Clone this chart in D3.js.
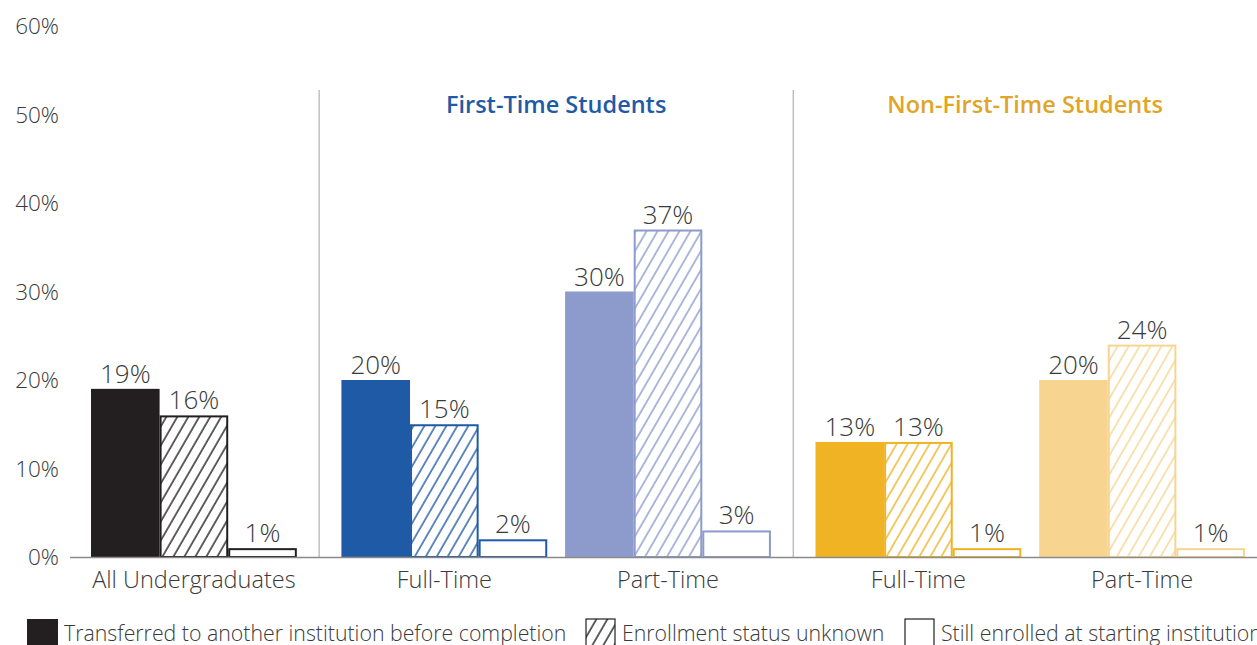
<!DOCTYPE html>
<html>
<head>
<meta charset="utf-8">
<script src="https://cdn.jsdelivr.net/npm/d3@7"></script>
<style>
  html, body { margin: 0; padding: 0; background: #fff; overflow: hidden; }
  svg { display: block; font-family: 'Open Sans', 'Noto Sans', sans-serif; }
</style>
</head>
<body>
<svg id="chart" width="1257" height="645"></svg>
<script>
(function() {
    'use strict';

    // data
    var groups = ['All Undergraduates', 'Full-Time', 'Part-Time', 'Full-Time', 'Part-Time'];
    var sectionOf = [0, 1, 1, 2, 2];
    var sections = ['', 'First-Time Students', 'Non-First-Time Students'];
    var transferred = [19, 20, 30, 13, 20];
    var unknown = [16, 15, 37, 13, 24];
    var stillEnrolled = [1, 2, 3, 1, 1];
    var groupColors = ['#231f20', '#1f5aa6', '#8c9bcb', '#f0b323', '#f7d590'];
    var sectionColors = ['#333', '#1f5aa6', '#e0a526'];
    var yTicks = [0, 10, 20, 30, 40, 50, 60];
    var legendLabels = ['Transferred to another institution before completion', 'Enrollment status unknown', 'Still enrolled at starting institution'];

    var svg = d3.select('#chart');
    var textColor = '#3a3a3a';

    // layout in "bar units": 3 bars per group, small gap inside a section, bigger gap between sections
    var innerGap = 0.26, sectionGap = 0.65;
    var groupStart = [];
    var u = 0;
    groups.forEach(function(g, i) {
        if (i > 0) {
            u += sectionOf[i] === sectionOf[i - 1] ? innerGap : sectionGap;
        }
        groupStart.push(u);
        u += 3;
    });

    var x = d3.scaleLinear().domain([0, u]).range([91, 1245]);
    var y = d3.scaleLinear().domain([0, 60]).range([557, 26]);

    // hatch patterns per group colour
    var defs = svg.append('defs');
    groupColors.forEach(function(c, i) {
        var p = defs.append('pattern')
            .attr('id', 'hatch' + i)
            .attr('patternUnits', 'userSpaceOnUse')
            .attr('width', 9.5)
            .attr('height', 9.5)
            .attr('patternTransform', 'rotate(30)');
        p.append('rect').attr('width', 9.5).attr('height', 9.5).attr('fill', '#fff');
        p.append('line')
            .attr('x1', 1).attr('y1', 0).attr('x2', 1).attr('y2', 9.5)
            .attr('stroke', c)
            .attr('stroke-width', 1.4);
    });

    // y axis labels
    svg.append('g').selectAll('text')
        .data(yTicks)
        .enter().append('text')
        .attr('x', 59)
        .attr('y', function(d) { return y(d); })
        .attr('dy', '0.36em')
        .attr('text-anchor', 'end')
        .style('font-size', '22.5px')
        .style('font-weight', 300)
        .style('fill', textColor)
        .text(function(d) { return d + '%'; });

    // section dividers and titles
    var dividers = [];
    for (var i = 1; i < groups.length; i++) {
        if (sectionOf[i] !== sectionOf[i - 1]) {
            dividers.push((x(groupStart[i - 1] + 3) + x(groupStart[i])) / 2);
        }
    }
    svg.append('g').selectAll('line')
        .data(dividers)
        .enter().append('line')
        .attr('x1', function(d) { return d; })
        .attr('x2', function(d) { return d; })
        .attr('y1', 90)
        .attr('y2', y(0))
        .attr('stroke', '#a0a0a0')
        .attr('stroke-width', 1);

    var bounds = [70].concat(dividers).concat([1257]);
    svg.append('g').selectAll('text')
        .data(sections)
        .enter().append('text')
        .attr('x', function(d, k) { return (bounds[k] + bounds[k + 1]) / 2; })
        .attr('y', 113)
        .attr('text-anchor', 'middle')
        .style('font-size', '23.5px')
        .style('font-weight', 600)
        .style('fill', function(d, k) { return sectionColors[k]; })
        .text(function(d) { return d; });

    // bars
    var bars = [];
    groups.forEach(function(g, gi) {
        [transferred, unknown, stillEnrolled].forEach(function(series, si) {
            bars.push({ group: gi, kind: si, value: series[gi] });
        });
    });

    var barW = x(1) - x(0);
    var gBars = svg.append('g');

    gBars.selectAll('rect')
        .data(bars)
        .enter().append('rect')
        .attr('x', function(d) {
            var x0 = x(groupStart[d.group] + d.kind);
            return d.kind === 0 ? x0 : x0 + 1;
        })
        .attr('y', function(d) { return d.kind === 0 ? y(d.value) : y(d.value) + 1; })
        .attr('width', function(d) { return d.kind === 0 ? barW : barW - 2; })
        .attr('height', function(d) { return d.kind === 0 ? y(0) - y(d.value) : y(0) - y(d.value) - 1; })
        .attr('fill', function(d) {
            if (d.kind === 0) return groupColors[d.group];
            if (d.kind === 1) return 'url(#hatch' + d.group + ')';
            return '#fff';
        })
        .attr('stroke', function(d) { return d.kind === 0 ? 'none' : groupColors[d.group]; })
        .attr('stroke-width', 2);

    gBars.selectAll('text')
        .data(bars)
        .enter().append('text')
        .attr('x', function(d) { return x(groupStart[d.group] + d.kind + 0.5); })
        .attr('y', function(d) { return y(d.value) - 6; })
        .attr('text-anchor', 'middle')
        .style('font-size', '26px')
        .style('font-weight', 300)
        .style('fill', textColor)
        .text(function(d) { return d.value + '%'; });

    // baseline
    svg.append('line')
        .attr('x1', 70)
        .attr('x2', 1257)
        .attr('y1', y(0) + 0.5)
        .attr('y2', y(0) + 0.5)
        .attr('stroke', '#8a8a8a')
        .attr('stroke-width', 1.5);

    // category labels
    svg.append('g').selectAll('text')
        .data(groups)
        .enter().append('text')
        .attr('x', function(d, k) { return x(groupStart[k] + 1.5); })
        .attr('y', 588)
        .attr('text-anchor', 'middle')
        .style('font-size', '23.5px')
        .style('font-weight', 300)
        .style('fill', textColor)
        .text(function(d) { return d; });

    // legend
    var legendX = [27, 585, 904];
    var lg = svg.append('g').selectAll('g')
        .data(legendLabels)
        .enter().append('g')
        .attr('transform', function(d, k) { return 'translate(' + legendX[k] + ',618)'; });

    lg.append('rect')
        .attr('x', function(d, k) { return k === 0 ? 0 : 1; })
        .attr('y', 1)
        .attr('width', function(d, k) { return k === 0 ? 31 : 29; })
        .attr('height', 32)
        .attr('fill', function(d, k) { return k === 0 ? groupColors[0] : (k === 1 ? 'url(#hatch0)' : '#fff'); })
        .attr('stroke', function(d, k) { return k === 0 ? 'none' : groupColors[0]; })
        .attr('stroke-width', 1.2);

    lg.append('text')
        .attr('x', 37)
        .attr('y', 23)
        .style('font-size', '21.3px')
        .style('font-weight', 300)
        .style('fill', textColor)
        .text(function(d) { return d; });
})();
</script>
</body>
</html>
